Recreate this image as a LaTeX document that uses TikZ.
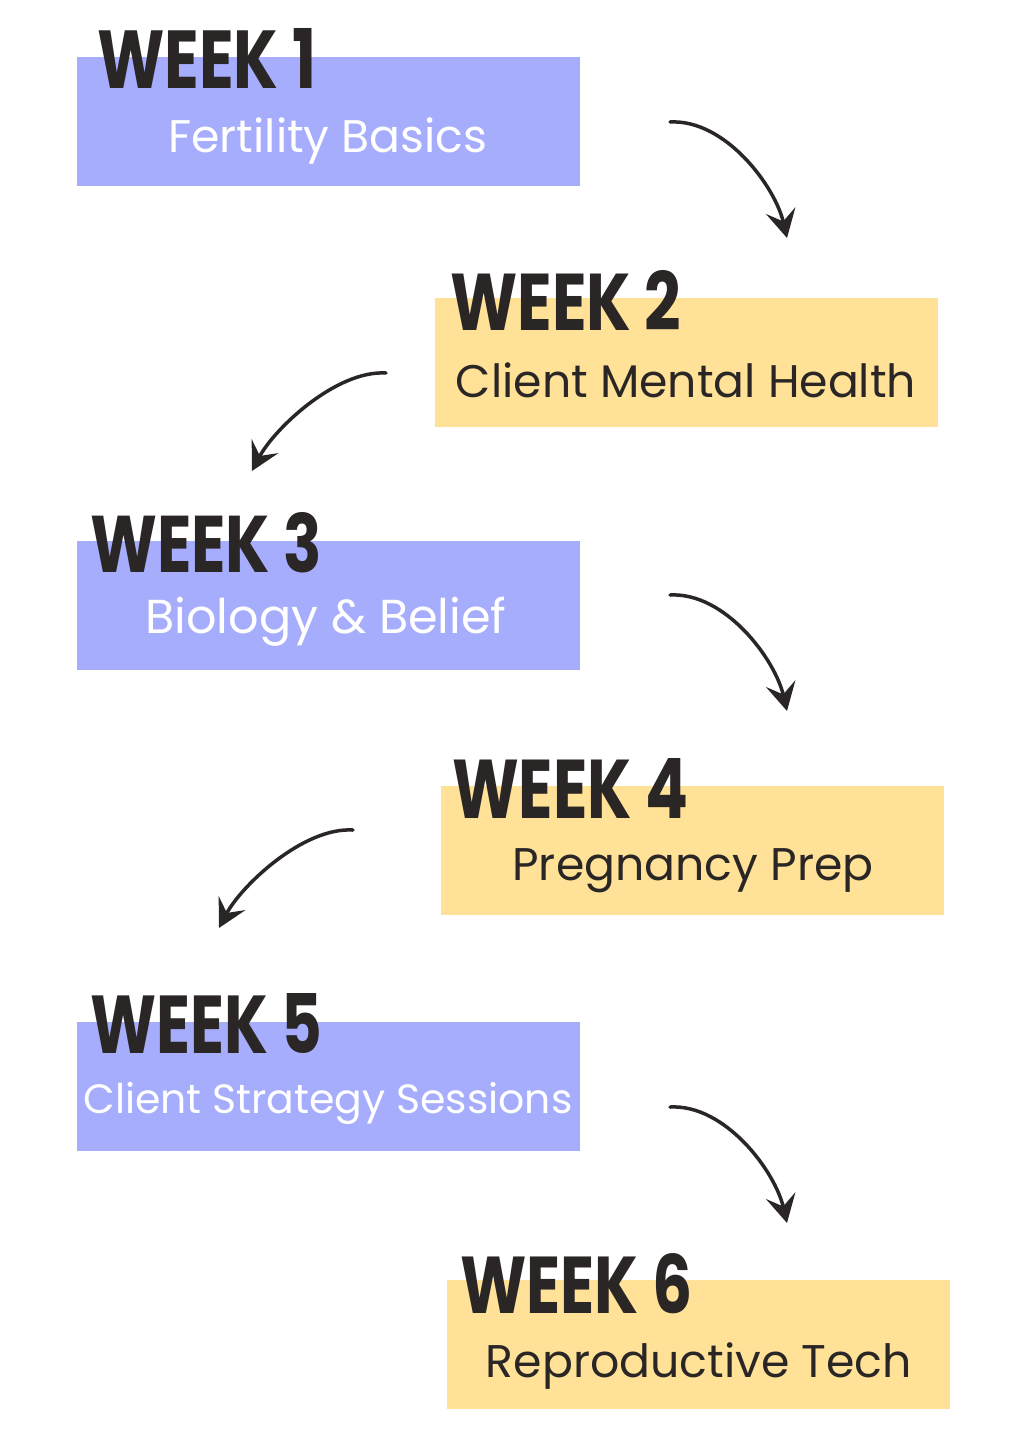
\documentclass[tikz,border=0pt]{standalone}
\usepackage{fontspec}
\setmainfont{Poppins}
\usetikzlibrary{arrows.meta}
\definecolor{lilac}{HTML}{A6ADFD}
\definecolor{butter}{HTML}{FFE297}
\definecolor{ink}{HTML}{2B2626}

\tikzset{
  weekbox/.style={fill=#1,anchor=north west,minimum width=503pt,minimum height=129pt,inner sep=0pt},
  weektitle/.style={anchor=base west,text=ink,inner sep=0pt},
  topic/.style={anchor=base,inner sep=0pt},
  sweep/.style={draw=ink,line width=3.5pt,line cap=round,-{Stealth[length=28pt,width=30pt,inset=11pt]}}
}

\begin{document}
\begin{tikzpicture}[x=1pt,y=-1pt]
\useasboundingbox[fill=white] (0,0) rectangle (1027,1440);
% boxes, headings, topics
\foreach \n/\x/\y/\col/\hx/\hy/\hw/\tx/\ty/\tw/\tcol/\topic in {
  1/77/57/lilac/97/88/219/328/152/319/white/Fertility Basics,
  2/435/298/butter/450/330/231/686/397/460/ink/Client Mental Health,
  3/77/541/lilac/90/572/232/326/633/361/white/Biology \& Belief,
  4/441/786/butter/452/818/236/693/880/361/ink/Pregnancy Prep,
  5/77/1022/lilac/90/1053/232/328/1113/489/white/Client Strategy Sessions,
  6/447/1280/butter/460/1313/232/699/1377/426/ink/Reproductive Tech}{
  \node[weekbox=\col] (b\n) at (\x,\y) {};
  \node[weektitle] (w\n) at (\hx,\hy) {\resizebox{\hw pt}{60pt}{\bfseries WEEK \n}};
  \node[topic,text=\tcol] (t\n) at (\tx,\ty) {\resizebox{\tw pt}{!}{\topic}};
}
% arrows to the right
\foreach \k/\y in {1/122,3/595,5/1107}{
  \coordinate (s\k) at (670,\y);
  \coordinate (e\k) at (787,\y+116);
  \draw[sweep] (s\k) .. controls +(55,-3) and +(-12,-52) .. (e\k);
}
% arrows to the left
\foreach \k/\x/\y in {2/386/373,4/353/830}{
  \coordinate (s\k) at (\x,\y);
  \coordinate (e\k) at (\x-134,\y+98);
  \draw[sweep] (s\k) .. controls +(-50,-3) and +(22,-42) .. (e\k);
}
\end{tikzpicture}
\end{document}
